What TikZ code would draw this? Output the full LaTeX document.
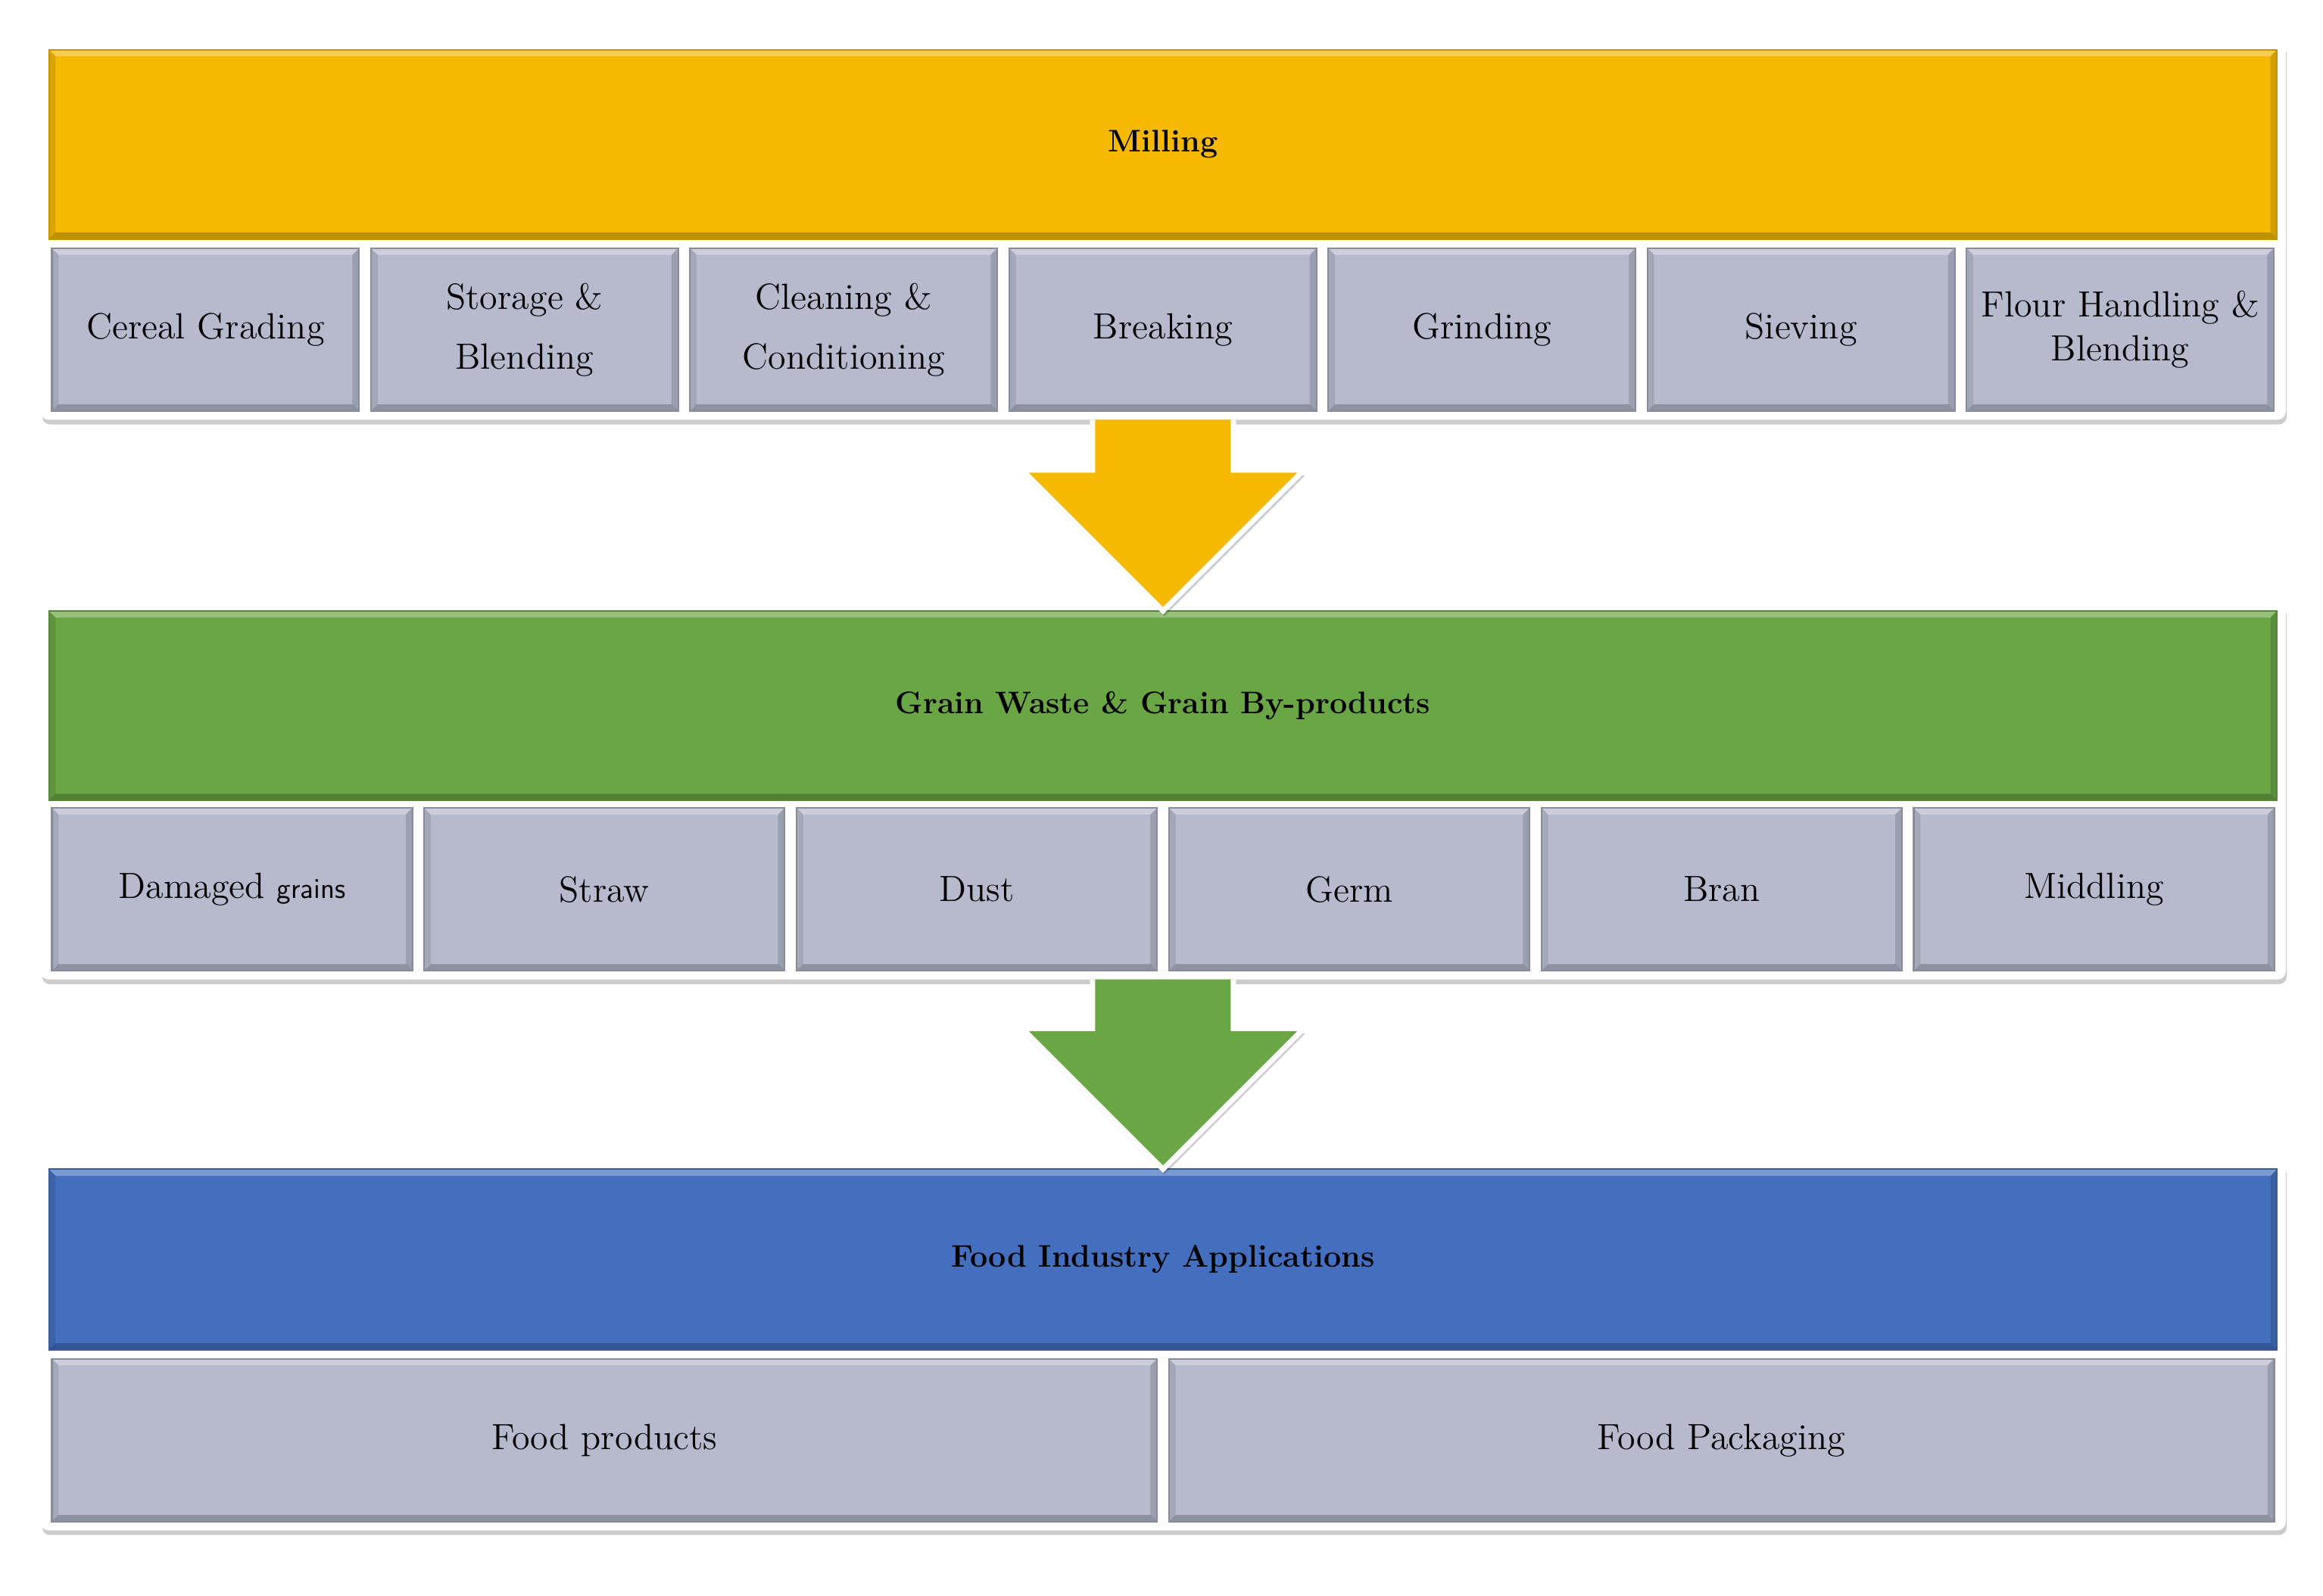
\documentclass[tikz,border=0pt]{standalone}
\usepackage{tikz}
\usetikzlibrary{positioning, calc, fit, backgrounds, shadows}

\definecolor{millyellow}{RGB}{244,185,0}
\definecolor{wastegreen}{RGB}{106,166,68}
\definecolor{foodblue}{RGB}{67,111,190}
\definecolor{cellgray}{RGB}{182,186,205}

\begin{document}
\begin{tikzpicture}[
    font=\fontsize{14}{17}\selectfont,
    node distance=0.12cm and 0.16cm,
    bevel/.style={path picture={
        \fill[white, opacity=0.3] (path picture bounding box.north west) -- (path picture bounding box.north east) -- ([xshift=-0.9mm, yshift=-0.9mm]path picture bounding box.north east) -- ([xshift=0.9mm, yshift=-0.9mm]path picture bounding box.north west) -- cycle;
        \fill[black, opacity=0.22] (path picture bounding box.south west) -- (path picture bounding box.south east) -- ([xshift=-0.9mm, yshift=0.9mm]path picture bounding box.south east) -- ([xshift=0.9mm, yshift=0.9mm]path picture bounding box.south west) -- cycle;
        \fill[black, opacity=0.1] (path picture bounding box.south west) -- (path picture bounding box.north west) -- ([xshift=0.9mm, yshift=-0.9mm]path picture bounding box.north west) -- ([xshift=0.9mm, yshift=0.9mm]path picture bounding box.south west) -- cycle;
        \fill[black, opacity=0.15] (path picture bounding box.south east) -- (path picture bounding box.north east) -- ([xshift=-0.9mm, yshift=-0.9mm]path picture bounding box.north east) -- ([xshift=-0.9mm, yshift=0.9mm]path picture bounding box.south east) -- cycle;
    }},
    header/.style={rectangle, bevel, draw=#1!80!black, line width=0.6pt, fill=#1, minimum width=30.08cm, minimum height=2.56cm, inner sep=0pt, outer sep=0pt, font=\fontsize{12}{14}\selectfont\bfseries},
    cell/.style={rectangle, bevel, draw=cellgray!75!black, line width=0.6pt, fill=cellgray, minimum width=#1, minimum height=2.2cm, inner sep=2pt, outer sep=0pt, align=center},
    secframe/.style={rectangle, draw=white, fill=white, rounded corners=3pt, inner sep=0.11cm, drop shadow={shadow xshift=0.02cm, shadow yshift=-0.07cm, fill=black, opacity=0.2}},
    bigarrow/.style={fill=#1, draw=white, line width=2pt, line join=miter, drop shadow={shadow xshift=0.02cm, shadow yshift=-0.07cm, fill=black, opacity=0.2}},
]
\useasboundingbox (0,0) rectangle (31.36,-21.54);

% Milling
\node[header=millyellow] (mill) at (15.70,-1.95) {Milling};
\node[cell=4.148cm, below right=0.12cm and 0.04cm of mill.south west] (grading) {Cereal Grading};
\node[cell=4.148cm, right=of grading] (storage) {Storage \&\\[6pt]Blending};
\node[cell=4.148cm, right=of storage] (cleaning) {Cleaning \&\\[6pt]Conditioning};
\node[cell=4.148cm, right=of cleaning] (breaking) {Breaking};
\node[cell=4.148cm, right=of breaking] (grinding) {Grinding};
\node[cell=4.148cm, right=of grinding] (sieving) {Sieving};
\node[cell=4.148cm, right=of sieving] (flour) {Flour Handling \&\\Blending};

\begin{scope}[on background layer]
    \node[secframe, fit=(mill) (grading) (flour)] (millbox) {};
\end{scope}

% Grain waste
\node[header=wastegreen, below=2.58cm of millbox] (waste) {Grain Waste \& Grain By-products};
\node[cell=4.867cm, below right=0.1cm and 0.04cm of waste.south west] (damaged) {Damaged {\sffamily\fontsize{11}{13}\selectfont grains}};
\node[cell=4.867cm, right=of damaged] (straw) {Straw};
\node[cell=4.867cm, right=of straw] (dust) {Dust};
\node[cell=4.867cm, right=of dust] (germ) {Germ};
\node[cell=4.867cm, right=of germ] (bran) {Bran};
\node[cell=4.867cm, right=of bran] (middling) {Middling};

\begin{scope}[on background layer]
    \node[secframe, fit=(waste) (damaged) (middling)] (wastebox) {};
\end{scope}

% Food industry
\node[header=foodblue, minimum height=2.44cm, below=2.56cm of wastebox] (food) {Food Industry Applications};
\node[cell=14.92cm, below right=0.12cm and 0.04cm of food.south west] (products) {Food products};
\node[cell=14.92cm, right=of products] (packaging) {Food Packaging};

\begin{scope}[on background layer]
    \node[secframe, fit=(food) (products) (packaging)] (foodbox) {};
\end{scope}

% Block arrows
\draw[bigarrow=millyellow] ($(millbox.south)+(-0.95,0)$) |- ($(waste.north)+(-1.9,1.9)$) -- (waste.north) -- ($(waste.north)+(1.9,1.9)$) -| ($(millbox.south)+(0.95,0)$);
\draw[bigarrow=wastegreen] ($(wastebox.south)+(-0.95,0)$) |- ($(food.north)+(-1.9,1.9)$) -- (food.north) -- ($(food.north)+(1.9,1.9)$) -| ($(wastebox.south)+(0.95,0)$);

\end{tikzpicture}
\end{document}
